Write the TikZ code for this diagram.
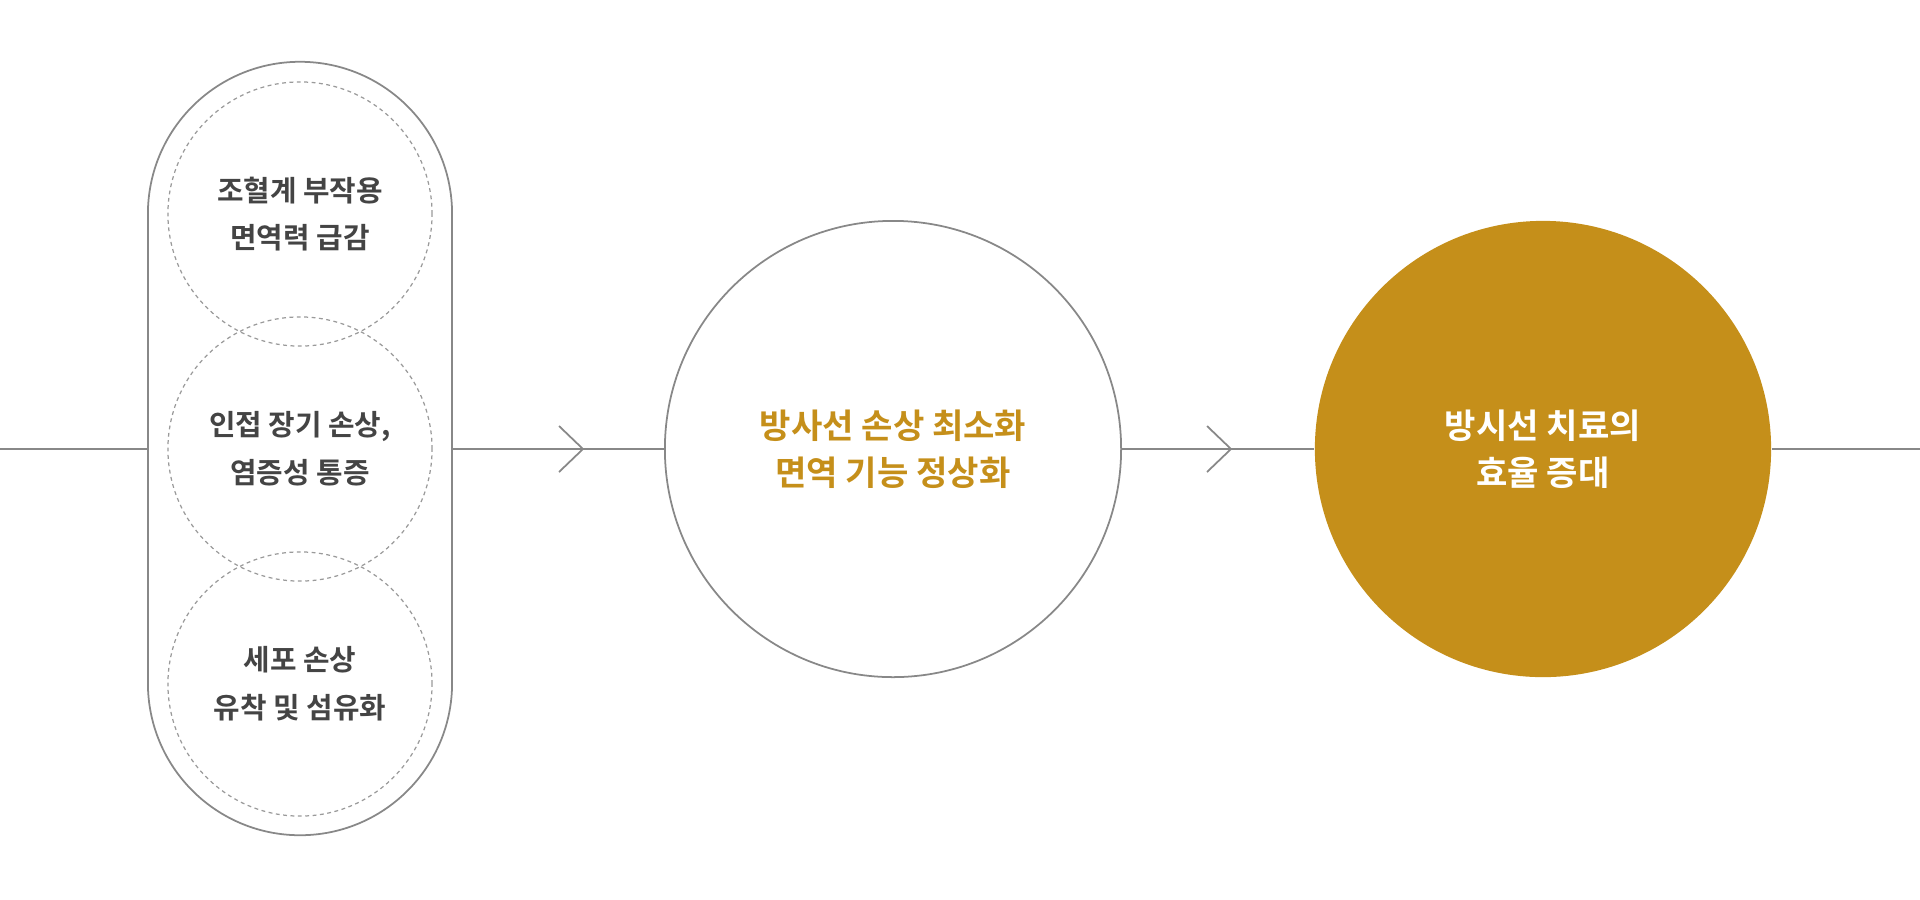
\documentclass[tikz,border=0pt]{standalone}
\usepackage{fontspec}
\newfontfamily\kr{Noto Sans CJK KR}[UprightFont=* Bold]
\definecolor{linegray}{RGB}{136,136,136}
\definecolor{ink}{RGB}{68,68,68}
\definecolor{gold}{RGB}{197,143,26}

\begin{document}
\begin{tikzpicture}[x=0.01cm, y=-0.01cm,
            wire/.style={draw=linegray, line width=0.5pt},
            dotring/.style={circle, draw=linegray!85, line width=0.35pt, dash pattern=on 1.1pt off 1pt,
                minimum size=2.64cm, inner sep=0pt, align=center, text=ink,
                font=\kr\fontsize{8.2pt}{13.6pt}\selectfont},
            bigring/.style={circle, minimum size=4.56cm, inner sep=0pt, align=center,
                font=\kr\fontsize{9.7pt}{13.4pt}\selectfont}]
            \useasboundingbox (0,0) rectangle (1920,899);
            \node[wire, rounded corners=1.52cm, minimum width=3.04cm, minimum height=7.73cm] (pill) at (300,448.5) {};
            \node[dotring] (blood) at (300,214) {조혈계 부작용\\면역력 급감};
            \node[dotring] (organ) at (300,449) {인접 장기 손상,\\염증성 통증};
            \node[dotring] (cell)  at (300,684) {세포 손상\\유착 및 섬유화};
            \node[bigring, wire, text=gold] (guard) at (893,449) {방사선 손상 최소화\\면역 기능 정상화};
            \node[bigring, fill=gold, text=white] (gain) at (1543,449) {방시선 치료의\\효율 증대};
            \coordinate (in)  at (0,449);
            \coordinate (out) at (1920,449);
            \coordinate (tipA) at (583,449);
            \coordinate (tipB) at (1231,449);
            \draw[wire] (in) -- (pill.west |- in);
            \draw[wire] (pill.east |- in) -- (guard.west);
            \draw[wire] (guard.east) -- (gain.west);
            \draw[wire] (gain.east) -- (out);
            \draw[wire] ([shift={(-24,-23)}]tipA) -- (tipA) -- ([shift={(-24,23)}]tipA);
            \draw[wire] ([shift={(-24,-23)}]tipB) -- (tipB) -- ([shift={(-24,23)}]tipB);
        \end{tikzpicture}
\end{document}
